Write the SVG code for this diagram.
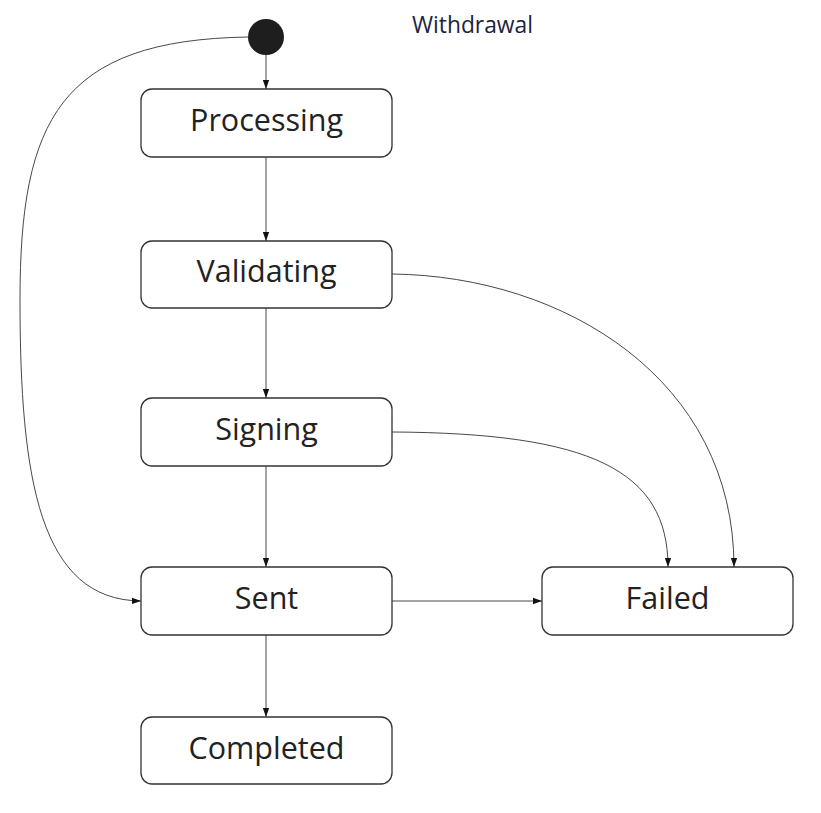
<svg xmlns="http://www.w3.org/2000/svg" width="821" height="813" viewBox="0 0 821 813">
<style>
.node rect{fill:#fff;stroke:#333;stroke-width:1.3}
.node text{font-family:"Open Sans",sans-serif;font-size:30.5px;fill:#222;text-anchor:middle;dominant-baseline:central}
.edge{fill:none;stroke:#333;stroke-width:0.9;marker-end:url(#arr)}
.title{font-family:"Open Sans",sans-serif;font-size:22.8px;fill:#1c2440}
</style>
<defs>
<marker id="arr" viewBox="0 0 10 10" refX="10" refY="5" markerWidth="9" markerHeight="9" markerUnits="userSpaceOnUse" orient="auto">
<path d="M0,1.5 L10,5 L0,8.5 z" fill="#111"/>
</marker>
</defs>
<rect width="821" height="813" fill="#fff"/>
<text class="title" x="412" y="33">Withdrawal</text>
<g id="connectors">
<path class="edge" d="M266,55 L266,89"/>
<path class="edge" d="M266,157 L266,241"/>
<path class="edge" d="M266,308 L266,398"/>
<path class="edge" d="M266,466 L266,567"/>
<path class="edge" d="M266,635 L266,717"/>
<path class="edge" d="M392,601 L542,601"/>
<path class="edge" d="M392,274 C565,276 734,380 734,567"/>
<path class="edge" d="M392,432 C590,433 668,470 668,567"/>
<path class="edge" d="M248,37 C60,40 20,120 20,300 C20,480 40,600 141,601"/>
</g>
<g id="start"><circle cx="266" cy="37" r="18" fill="#1e1e1e"/></g>
<g id="processing" class="node"><rect x="141" y="89" width="251" height="68" rx="11"/><text x="266.5" y="119">Processing</text></g>
<g id="validating" class="node"><rect x="141" y="241" width="251" height="67" rx="11"/><text x="266.5" y="270">Validating</text></g>
<g id="signing" class="node"><rect x="141" y="398" width="251" height="68" rx="11"/><text x="266.5" y="428">Signing</text></g>
<g id="sent" class="node"><rect x="141" y="567" width="251" height="68" rx="11"/><text x="266.5" y="597">Sent</text></g>
<g id="failed" class="node"><rect x="542" y="567" width="251" height="68" rx="11"/><text x="667.5" y="597">Failed</text></g>
<g id="completed" class="node"><rect x="141" y="717" width="251" height="67" rx="11"/><text x="266.5" y="747">Completed</text></g>
</svg>
